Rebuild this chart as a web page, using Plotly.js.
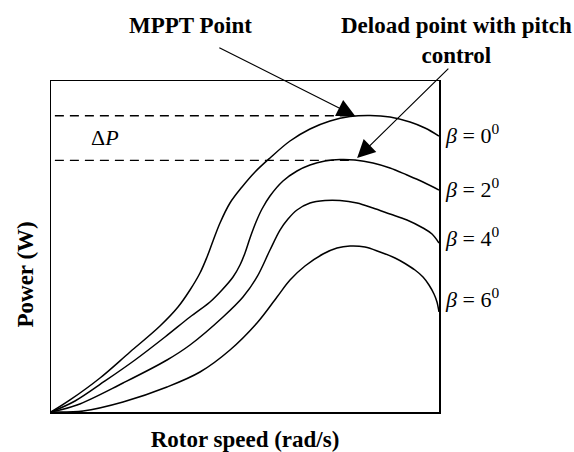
<!DOCTYPE html>
<html>
<head>
<meta charset="utf-8">
<script src="https://cdn.plot.ly/plotly-3.0.1.min.js"></script>
<style>html,body{margin:0;padding:0;background:#fff}#chart{width:574px;height:452px}</style>
</head>
<body>
<div id="chart"></div>
<script>
// Rotor speed (normalised 0-100) and power (normalised 0-100)
const beta0X = [0, 4.90, 12.63, 20.36, 28.09, 32.73, 35.82, 38.40, 40.21, 41.75, 43.56, 46.13, 49.23, 52.58, 56.44, 61.60, 66.75, 71.91, 77.06, 82.22, 87.37, 92.53, 96.39, 100];
const beta0Y = [0, 3.63, 10.27, 18.13, 25.98, 31.72, 36.86, 42.00, 46.83, 51.66, 57.10, 63.14, 67.98, 72.51, 76.74, 81.87, 85.50, 87.92, 89.27, 89.58, 89.12, 87.61, 85.80, 83.38];

const beta2X = [0, 6.19, 13.92, 21.65, 29.38, 35.82, 40.98, 44.07, 46.91, 48.71, 50.00, 51.29, 52.84, 54.38, 56.44, 59.79, 63.40, 66.75, 70.62, 74.48, 78.35, 82.99, 87.37, 91.75, 95.88, 100];
const beta2Y = [0, 3.32, 9.37, 15.71, 22.66, 28.70, 33.23, 36.86, 40.79, 44.41, 48.04, 52.57, 57.40, 61.33, 65.26, 69.79, 72.81, 74.62, 75.83, 76.28, 76.13, 75.23, 73.72, 71.60, 69.49, 67.07];

const beta4X = [0, 6.70, 18.56, 29.90, 35.82, 44.33, 49.48, 53.09, 56.44, 59.02, 61.08, 63.40, 66.75, 70.62, 74.48, 78.87, 82.99, 87.37, 91.75, 95.88, 98.20, 100];
const beta4Y = [0, 2.11, 8.76, 15.71, 20.24, 28.70, 34.74, 40.79, 48.94, 54.98, 58.31, 61.03, 63.14, 63.90, 63.90, 63.14, 61.63, 59.82, 58.01, 55.59, 53.78, 51.06];

const beta6X = [0, 8.25, 18.56, 29.90, 38.40, 46.13, 53.09, 58.25, 61.60, 65.46, 70.10, 73.71, 77.06, 80.93, 84.79, 88.66, 91.24, 93.81, 95.88, 97.42, 98.71, 99.48, 100];
const beta6Y = [0, 0.30, 3.02, 7.55, 12.08, 18.73, 26.89, 34.74, 39.88, 44.11, 47.73, 49.55, 50.15, 49.85, 48.34, 46.53, 44.86, 42.90, 40.79, 38.37, 35.65, 33.23, 30.21];

const betaLabels = ['0', '2', '4', '6'];
const betaLabelY = [84.1, 67.7, 52.9, 34.4];

// Reference levels: MPPT power and deloaded power
const mpptLevel = 89.5;
const deloadLevel = 76.0;
const refLineX = [1.0, 78.4];

const FONT = '"Liberation Serif", "Times New Roman", Times, serif';

const curveStyle = {color: '#000', width: 1.5, shape: 'spline', smoothing: 1};
const series = [[beta0X, beta0Y], [beta2X, beta2Y], [beta4X, beta4Y], [beta6X, beta6Y]];
const traces = series.map((s, i) => ({
  x: s[0], y: s[1], type: 'scatter', mode: 'lines',
  line: curveStyle, name: 'β = ' + betaLabels[i], hoverinfo: 'skip'
}));
traces.push({
  x: refLineX, y: [mpptLevel, mpptLevel], type: 'scatter', mode: 'lines',
  line: {color: '#000', width: 1.3, dash: '9px,6px'}, hoverinfo: 'skip'
});
traces.push({
  x: refLineX, y: [deloadLevel, deloadLevel], type: 'scatter', mode: 'lines',
  line: {color: '#000', width: 1.3, dash: '9px,6px'}, hoverinfo: 'skip'
});

const annotations = betaLabels.map((b, i) => ({
  xref: 'paper', yref: 'paper', x: 1.0103, y: betaLabelY[i] / 100,
  xanchor: 'left', yanchor: 'middle', showarrow: false,
  text: '<i>β</i> = ' + b + '<sup>0</sup>',
  font: {family: FONT, size: 22, color: '#000'}
}));

annotations.push({
  xref: 'x', yref: 'y', x: 14, y: 82.8, showarrow: false,
  xanchor: 'center', yanchor: 'middle',
  text: 'Δ<i>P</i>', font: {family: FONT, size: 22, color: '#000'}
});
annotations.push({
  xref: 'paper', yref: 'paper', x: (190 - 51) / 388, y: (412 - 25) / 331,
  xanchor: 'center', yanchor: 'middle', showarrow: false,
  text: '<b>MPPT Point</b>', font: {family: FONT, size: 23, color: '#000'}
});
annotations.push({
  xref: 'paper', yref: 'paper', x: (456 - 51) / 388, y: (412 - 40) / 331,
  xanchor: 'center', yanchor: 'middle', showarrow: false, align: 'center',
  text: '<b>Deload point with pitch<br>control</b>', font: {family: FONT, size: 23, color: '#000'}
});
// arrows
annotations.push({
  xref: 'x', yref: 'y', axref: 'x', ayref: 'y',
  x: 78.4, y: 89.4, ax: 43.0, ay: 110.3, text: '', showarrow: true,
  arrowhead: 2, arrowsize: 3, arrowwidth: 1.2, arrowcolor: '#000', standoff: 0
});
annotations.push({
  xref: 'x', yref: 'y', axref: 'x', ayref: 'y',
  x: 78.9, y: 76.7, ax: 102.8, ay: 104.2, text: '', showarrow: true,
  arrowhead: 2, arrowsize: 3, arrowwidth: 1.2, arrowcolor: '#000', standoff: 0
});
// y axis title placed as in the picture
annotations.push({
  xref: 'paper', yref: 'paper', x: (25 - 51) / 388, y: (412 - 274.5) / 331,
  xanchor: 'center', yanchor: 'middle', showarrow: false, textangle: -90,
  text: '<b>Power (W)</b>', font: {family: FONT, size: 23, color: '#000'}
});

const layout = {
  width: 574, height: 452,
  margin: {l: 51, r: 135, t: 81, b: 40, pad: 0},
  paper_bgcolor: '#fff', plot_bgcolor: '#fff',
  showlegend: false,
  xaxis: {
    range: [0, 100], showgrid: false, zeroline: false, showticklabels: false, ticks: '',
    showline: true, mirror: true, linecolor: '#000', linewidth: 1.5,
    title: {text: '<b>Rotor speed (rad/s)</b>', font: {family: FONT, size: 23, color: '#000'}, standoff: 18}
  },
  yaxis: {
    range: [0, 100], showgrid: false, zeroline: false, showticklabels: false, ticks: '',
    showline: true, mirror: true, linecolor: '#000', linewidth: 1.5
  },
  annotations: annotations
};

Plotly.newPlot('chart', traces, layout, {displayModeBar: false, staticPlot: true});
</script>
</body>
</html>
